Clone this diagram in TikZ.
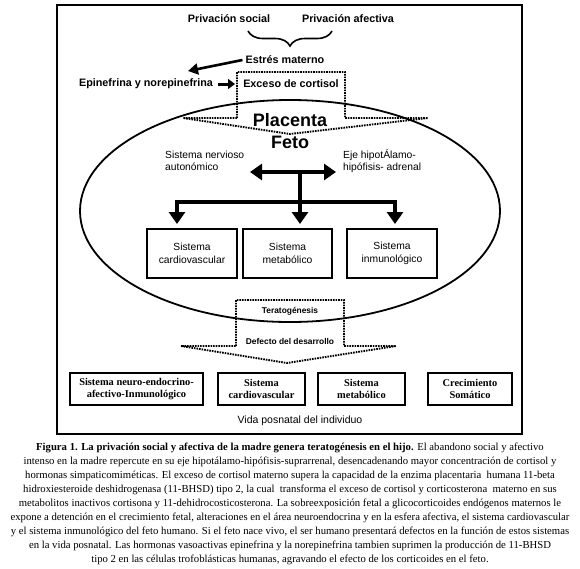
\documentclass[tikz,border=0pt]{standalone}
\usepackage{fontspec}
\setmainfont{Liberation Serif}
\setsansfont{Liberation Sans}
\usetikzlibrary{arrows.meta,decorations.pathreplacing}
\begin{document}
\begin{tikzpicture}[x=1pt,y=-1pt,
  lbl/.style={font=\sffamily\bfseries\fontsize{10.8}{12}\selectfont, inner sep=0pt},
  big/.style={font=\sffamily\bfseries\fontsize{18}{20}\selectfont, inner sep=0pt},
  small/.style={font=\sffamily\fontsize{10.3}{12.5}\selectfont, inner sep=0pt, align=left},
  sysbox/.style={draw, line width=1.3pt, font=\sffamily\fontsize{10.3}{12.5}\selectfont, align=center,
                 inner sep=0pt, minimum width=90pt, minimum height=49pt},
  postbox/.style={draw, line width=1.6pt, font=\rmfamily\bfseries\fontsize{10.4}{11.5}\selectfont, align=center,
                 inner sep=0pt, minimum height=32pt},
  tiny/.style={font=\sffamily\bfseries\fontsize{8.4}{10}\selectfont, inner sep=0pt},
  dots/.style={line width=1.9pt, dash pattern=on 1.6pt off 1pt},
  fat/.style={line width=4pt},
  fatarrow/.style={fat, -{Triangle[length=12pt,width=16pt]}},
  captxt/.style={font=\rmfamily\fontsize{10.7}{12}\selectfont, inner sep=0pt, anchor=base},
]
\useasboundingbox (0,0) rectangle (580,568);
% outer frame
\draw[line width=1.5pt] (57,5) rectangle (522,434);
% ellipse
\draw[line width=1.8pt] (290,211) ellipse [x radius=210pt, y radius=111pt];

% top labels
\node[lbl] (ps) at (229,19) {Privación social};
\node[lbl] (pa) at (348,19) {Privación afectiva};
\coordinate (brl) at (248,31);
\coordinate (brr) at (332,31);
\draw[line width=1.6pt, decorate, decoration={brace, mirror, amplitude=15pt}] (brl) -- (brr);
\node[lbl] (em) at (285,60) {Estrés materno};
\node[lbl] (epi) at (146,84) {Epinefrina y norepinefrina};
\coordinate (epitip) at (188,71);
\draw[line width=2.6pt, -{Triangle[length=10pt,width=11pt]}] ([xshift=-3pt]em.west) -- (epitip);

% upper dotted chevron
\coordinate (uA) at (237,118);
\coordinate (uB) at (237,72);
\coordinate (uC) at (345,72);
\coordinate (uD) at (345,118);
\coordinate (uE) at (428,118);
\coordinate (uF) at (290,134);
\coordinate (uG) at (183,118);
\draw[dots] (uA) -- (uB) -- (uC) -- (uD) -- (uE) -- (uF) -- (uG) -- cycle;
\node[lbl] (exc) at (291,84) {Exceso de cortisol};
\draw[line width=3pt, -{Triangle[length=7pt,width=10pt]}] ([xshift=5pt]epi.east) -- ([xshift=-2pt]uB |- epi.east);

\node[big] (plac) at (290,120) {Placenta};
\node[big] (feto) at (290,142) {Feto};

% fetal systems
\node[small, anchor=west] (sna) at (165,161) {Sistema nervioso\\autonómico};
\node[small, anchor=west] (eje) at (343,161) {Eje hipotÁlamo-\\hipófisis- adrenal};
\coordinate (hl) at (250,172);
\coordinate (hr) at (336,172);
\coordinate (hub) at (300,172);
\coordinate (split) at (300,202);
\coordinate (sl) at (177,202);
\coordinate (sr) at (395,202);
\draw[fat, {Triangle[length=12pt,width=16pt]}-{Triangle[length=12pt,width=16pt]}] (hl) -- (hr);
\draw[fat] (hub) -- (split);
\draw[fat, line cap=rect] (sl) -- (sr);
\node[sysbox] (cv) at (192,253.5) {Sistema\\cardiovascular};
\node[sysbox, minimum width=89pt] (met) at (287.5,253.5) {Sistema\\metabólico};
\node[sysbox] (inm) at (392,253.5) {Sistema\\inmunológico};
\draw[fatarrow] (sl) -- (sl |- 0,224);
\draw[fatarrow] (split) -- (split |- 0,224);
\draw[fatarrow] (sr) -- (sr |- 0,224);

% lower dotted chevron
\coordinate (lA) at (236,346);
\coordinate (lB) at (236,300);
\coordinate (lC) at (344,300);
\coordinate (lD) at (344,346);
\coordinate (lE) at (396,346);
\coordinate (lF) at (287,363);
\coordinate (lG) at (181,346);
\draw[dots] (lA) -- (lB) -- (lC) -- (lD) -- (lE) -- (lF) -- (lG) -- cycle;
\node[tiny] (ter) at (290,311) {Teratogénesis};
\node[tiny] (def) at (290,341) {Defecto del desarrollo};

% postnatal
\node[postbox, minimum width=133pt] (p1) at (136.5,389) {Sistema neuro-endocrino-\\afectivo-Inmunológico};
\node[postbox, minimum width=87pt] (p2) at (261.5,389) {Sistema\\cardiovascular};
\node[postbox, minimum width=87pt] (p3) at (361.5,389) {Sistema\\metabólico};
\node[postbox, minimum width=84pt] (p4) at (470,389) {Crecimiento\\Somático};
\node[font=\sffamily\fontsize{10.5}{12}\selectfont, inner sep=0pt] (vida) at (300,421) {Vida posnatal del individuo};

% caption
\node[captxt] (c1) at (290,450) {\textbf{Figura 1. La privación social y afectiva de la madre genera teratogénesis en el hijo.} El abandono social y afectivo};
\node[captxt] (c2) at (290,464.1) {intenso en la madre repercute en su eje hipotálamo-hipófisis-suprarrenal, desencadenando mayor concentración de cortisol y};
\node[captxt] (c3) at (290,478.2) {hormonas simpaticomiméticas. El exceso de cortisol materno supera la capacidad de la enzima placentaria\ \ humana 11-beta};
\node[captxt] (c4) at (290,492.3) {hidroxiesteroide deshidrogenasa (11-BHSD) tipo 2, la cual\ \ transforma el exceso de cortisol y corticosterona\ \ materno en sus};
\node[captxt] (c5) at (290,506.4) {metabolitos inactivos cortisona y 11-dehidrocosticosterona. La sobreexposición fetal a glicocorticoides endógenos maternos le};
\node[captxt] (c6) at (290,520.5) {expone a detención en el crecimiento fetal, alteraciones en el área neuroendocrina y en la esfera afectiva, el sistema cardiovascular};
\node[captxt] (c7) at (290,534.6) {y el sistema inmunológico del feto humano. Si el feto nace vivo, el ser humano presentará defectos en la función de estos sistemas};
\node[captxt] (c8) at (290,548.7) {en la vida posnatal. Las hormonas vasoactivas epinefrina y la norepinefrina tambien suprimen la producción de 11-BHSD};
\node[captxt] (c9) at (290,562.8) {tipo 2 en las células trofoblásticas humanas, agravando el efecto de los corticoides en el feto.};
\end{tikzpicture}
\end{document}
